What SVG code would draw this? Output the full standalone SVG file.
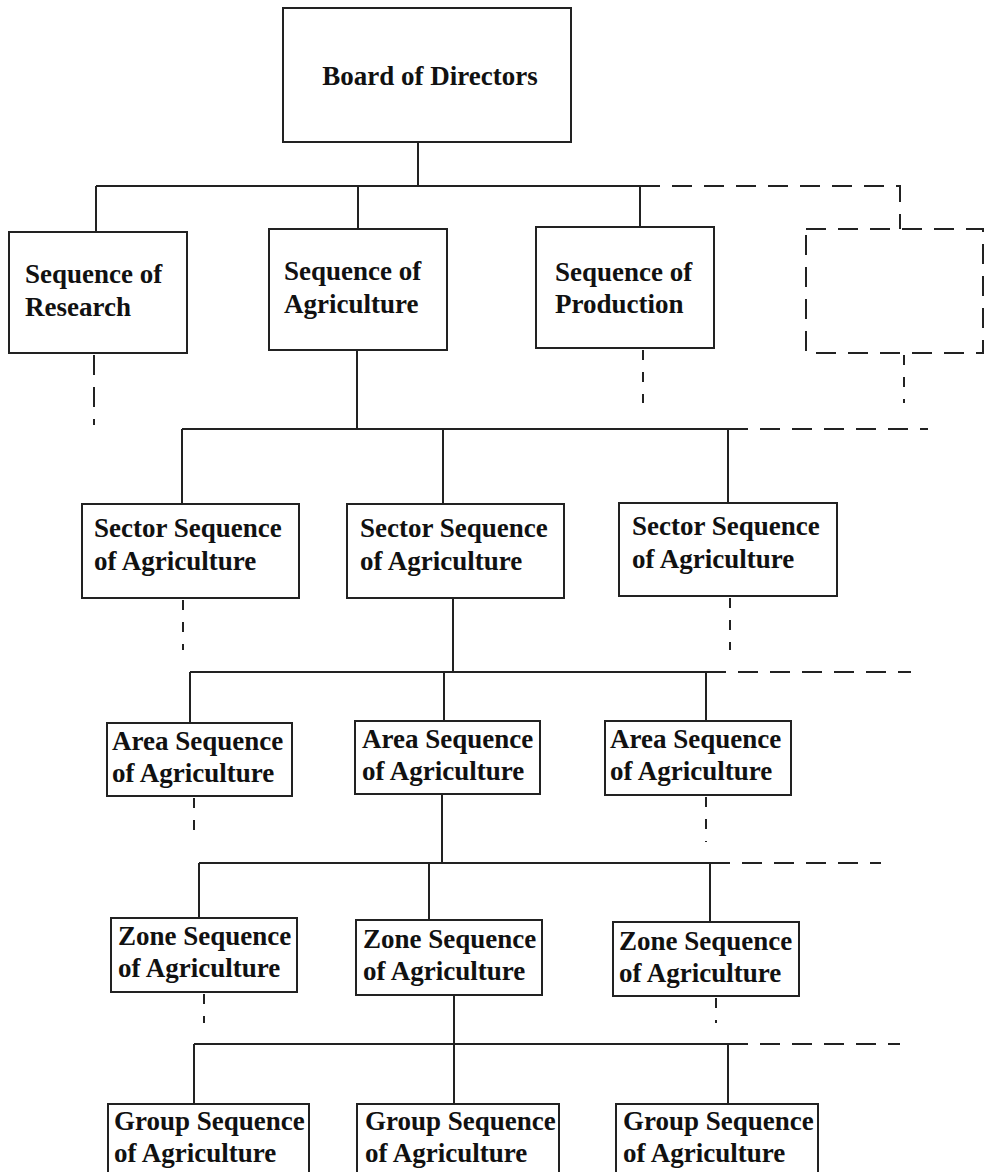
<svg xmlns="http://www.w3.org/2000/svg" width="986" height="1172" viewBox="0 0 986 1172">
<style>
.box{fill:#fff;stroke:#222;stroke-width:2}
.dbox{fill:none;stroke:#222;stroke-width:2;stroke-dasharray:20,12}
.t{font-family:"Liberation Serif","Times New Roman",serif;font-weight:bold;font-size:27px;fill:#111}
.ln{stroke:#222;stroke-width:2;fill:none}
.dl{stroke:#222;stroke-width:2;fill:none;stroke-dasharray:20,12}
.ds{stroke:#222;stroke-width:2;fill:none;stroke-dasharray:10,12}
</style>
<rect width="986" height="1172" fill="#fff"/>
<g id="connectors">
<path class="ln" d="M418 142V186M96 186H640M96 186V232M358 186V229M640 186V227"/>
<path class="dl" d="M640 186H900V229"/>
<path class="dl" d="M94 355V425"/>
<path class="ds" d="M643 350V403"/>
<path class="ds" d="M904 355V403"/>
<path class="ln" d="M357 350V429M182 429H728M182 429V504M443 429V504M728 429V503"/>
<path class="dl" d="M728 429H928"/>
<path class="ds" d="M183 600V650"/>
<path class="ds" d="M730 598V650"/>
<path class="ln" d="M453 598V672M190 672H706M190 672V723M444 672V721M706 672V721"/>
<path class="dl" d="M706 672H911"/>
<path class="ds" d="M194 798V842"/>
<path class="ds" d="M706 797V842"/>
<path class="ln" d="M442 794V863M199 863H710M199 863V918M429 863V920M710 863V922"/>
<path class="dl" d="M710 863H881"/>
<path class="ds" d="M204 994V1023"/>
<path class="ds" d="M716 998V1023"/>
<path class="ln" d="M454 995V1104M194 1044H728M194 1044V1104M728 1044V1104"/>
<path class="dl" d="M728 1044H900"/>
</g>
<g id="board"><rect class="box" x="283" y="8" width="288" height="134"/><text class="t" x="430" y="85" text-anchor="middle">Board of Directors</text></g>
<g id="research"><rect class="box" x="9" y="232" width="178" height="121"/><text class="t" x="25" y="283">Sequence of</text><text class="t" x="25" y="316">Research</text></g>
<g id="agriculture"><rect class="box" x="269" y="229" width="178" height="121"/><text class="t" x="284" y="280">Sequence of</text><text class="t" x="284" y="313">Agriculture</text></g>
<g id="production"><rect class="box" x="536" y="227" width="178" height="121"/><text class="t" x="555" y="281">Sequence of</text><text class="t" x="555" y="313">Production</text></g>
<g id="placeholder"><rect class="dbox" x="806" y="229" width="177" height="124"/></g>
<g id="sector1"><rect class="box" x="82" y="504" width="217" height="94"/><text class="t" x="94" y="537">Sector Sequence</text><text class="t" x="94" y="570">of Agriculture</text></g>
<g id="sector2"><rect class="box" x="347" y="504" width="217" height="94"/><text class="t" x="360" y="537">Sector Sequence</text><text class="t" x="360" y="570">of Agriculture</text></g>
<g id="sector3"><rect class="box" x="619" y="503" width="218" height="93"/><text class="t" x="632" y="535">Sector Sequence</text><text class="t" x="632" y="568">of Agriculture</text></g>
<g id="area1"><rect class="box" x="107" y="723" width="185" height="73"/><text class="t" x="112" y="750">Area Sequence</text><text class="t" x="112" y="782">of Agriculture</text></g>
<g id="area2"><rect class="box" x="355" y="721" width="185" height="73"/><text class="t" x="362" y="748">Area Sequence</text><text class="t" x="362" y="780">of Agriculture</text></g>
<g id="area3"><rect class="box" x="605" y="721" width="186" height="74"/><text class="t" x="610" y="748">Area Sequence</text><text class="t" x="610" y="780">of Agriculture</text></g>
<g id="zone1"><rect class="box" x="111" y="918" width="186" height="74"/><text class="t" x="118" y="945">Zone Sequence</text><text class="t" x="118" y="977">of Agriculture</text></g>
<g id="zone2"><rect class="box" x="356" y="920" width="186" height="75"/><text class="t" x="363" y="948">Zone Sequence</text><text class="t" x="363" y="980">of Agriculture</text></g>
<g id="zone3"><rect class="box" x="613" y="922" width="186" height="74"/><text class="t" x="619" y="950">Zone Sequence</text><text class="t" x="619" y="982">of Agriculture</text></g>
<g id="group1"><rect class="box" x="108" y="1104" width="201" height="80"/><text class="t" x="114" y="1130">Group Sequence</text><text class="t" x="114" y="1162">of Agriculture</text></g>
<g id="group2"><rect class="box" x="357" y="1104" width="202" height="80"/><text class="t" x="365" y="1130">Group Sequence</text><text class="t" x="365" y="1162">of Agriculture</text></g>
<g id="group3"><rect class="box" x="616" y="1104" width="202" height="80"/><text class="t" x="623" y="1130">Group Sequence</text><text class="t" x="623" y="1162">of Agriculture</text></g>
</svg>
